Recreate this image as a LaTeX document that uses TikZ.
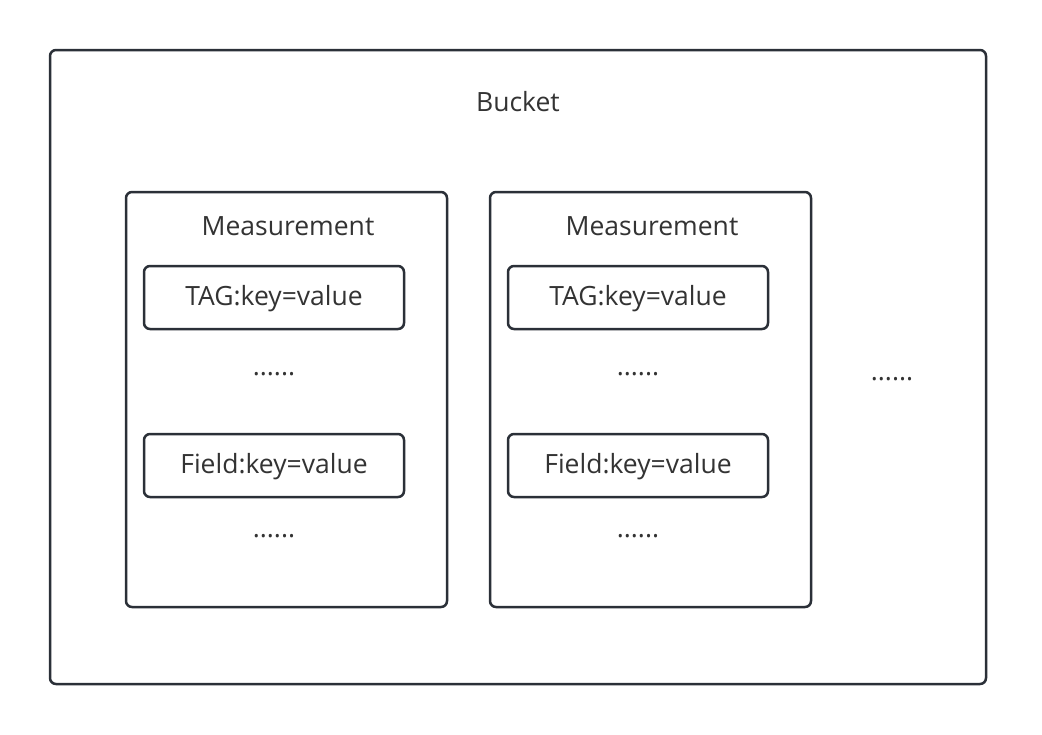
\documentclass[tikz,border=0pt]{standalone}
\usepackage{fontspec}
\setmainfont{Open Sans}
\definecolor{ln}{HTML}{2B3038}
\definecolor{tx}{HTML}{333333}
\begin{document}
\begin{tikzpicture}[x=1pt,y=-1pt,
  box/.style={draw=ln,line width=2.5pt,rounded corners=6pt},
  lbl/.style={text=tx,font=\fontsize{26.5}{30}\selectfont,inner sep=0pt}]
\useasboundingbox[fill=white] (0,0) rectangle (1042,734);
\draw[box] (50,50) rectangle (986,684);
\node[lbl] (bucket) at (518,102) {Bucket};
\foreach \i/\dx in {1/0,2/364}{
  \draw[box] (126+\dx,192) rectangle (447+\dx,607);
  \node[lbl] (m\i) at (288+\dx,226) {Measurement};
  \draw[box] (144+\dx,266) rectangle (404+\dx,329);
  \node[lbl] (tag\i) at (274+\dx,299) {TAG:key=value};
  \node[lbl] (d\i a) at (274+\dx,374) {......};
  \draw[box] (144+\dx,434) rectangle (404+\dx,497);
  \node[lbl] (field\i) at (274+\dx,467) {Field:key=value};
  \node[lbl] (d\i b) at (274+\dx,536) {......};
}
\node[lbl] (dr) at (892,379) {......};
\end{tikzpicture}
\end{document}
